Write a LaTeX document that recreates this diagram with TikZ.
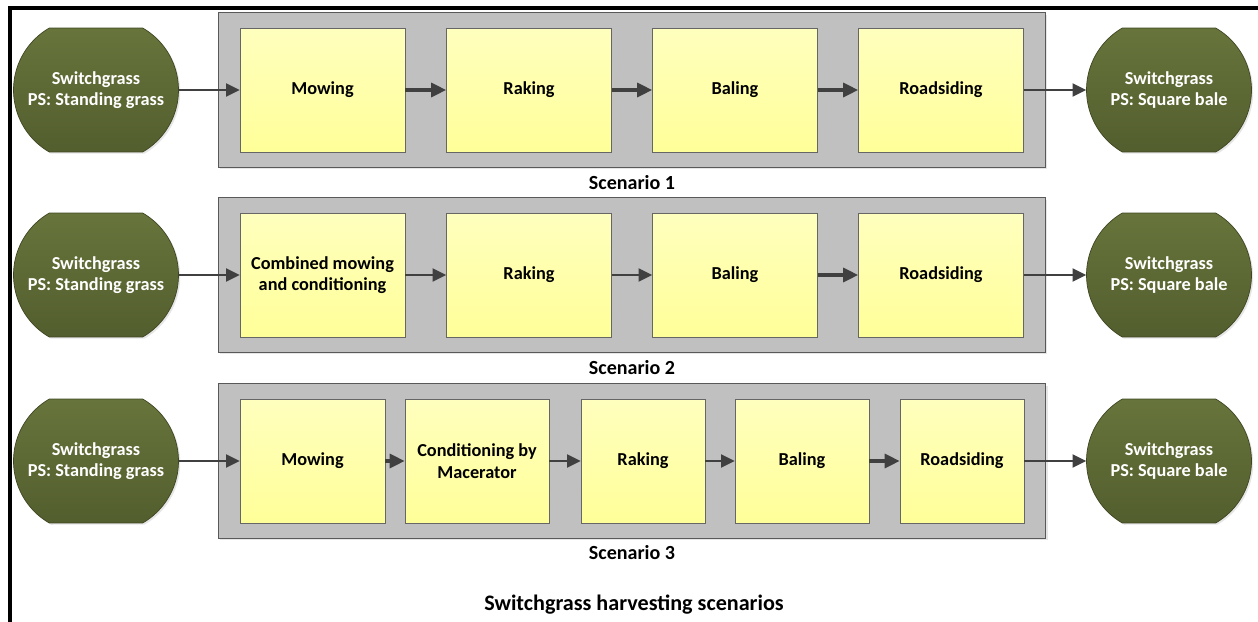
\documentclass[tikz,border=0pt]{standalone}
\usepackage{fontspec}
\setmainfont{Carlito}
\usetikzlibrary{positioning,fit,backgrounds,shapes.misc,shadows,arrows.meta}

\definecolor{olivetop}{HTML}{67743B}
\definecolor{olivebot}{HTML}{535E2E}
\definecolor{olivedraw}{HTML}{3E4622}
\definecolor{paneldraw}{HTML}{595959}
\definecolor{panelfill}{HTML}{C0C0C0}
\definecolor{boxtop}{HTML}{FFFFBE}
\definecolor{boxbot}{HTML}{FFFF99}
\definecolor{arrowcol}{HTML}{404040}

\begin{document}
\begin{tikzpicture}[x=0.02cm,y=-0.02cm,
font=\fontsize{10.4}{12.2}\selectfont\bfseries,
grass/.style ={rounded rectangle,rounded rectangle arc length=120,
  minimum width=3.3cm,minimum height=2.48cm,inner sep=0pt,
  top color=olivetop,bottom color=olivebot,draw=olivedraw,
  text=white,align=center,
  drop shadow={shadow xshift=1pt,shadow yshift=-1pt,opacity=0.2}},
task/.style ={minimum width=3.3cm,minimum height=2.48cm,inner sep=0pt,
  top color=boxtop,bottom color=boxbot,draw=gray!80!black,align=center},
panel/.style ={fill=panelfill,draw=paneldraw,line width=0.6pt,
  inner xsep=0.43cm,inner ysep=0.3cm,
  drop shadow={shadow xshift=1.2pt,shadow yshift=-1.2pt,opacity=0.2}},
caption/.style ={font=\fontsize{11.4}{13}\selectfont\bfseries},
thinarr/.style = {-{Triangle[length=0.27cm,width=0.26cm]},arrowcol,line width=1.1pt},
thickarr/.style = {-{Triangle[length=0.3cm,width=0.28cm]},arrowcol,line width=1.8pt}]

\useasboundingbox (0,0) rectangle (1258,622);

% frame
\draw[line width=2.2pt] (10,622) -- (10,8) -- (1258,8);

% Scenario 1
\node[task] (mow1) at (322.5,90) {Mowing};
\node[task] (rake1) at (529,90) {Raking};
\node[task] (bale1) at (735,90) {Baling};
\node[task] (road1) at (941,90) {Roadsiding};

% Scenario 2
\node[task] (mow2) at (322.5,275) {Combined mowing\\and conditioning};
\node[task] (rake2) at (529,275) {Raking};
\node[task] (bale2) at (735,275) {Baling};
\node[task] (road2) at (941,275) {Roadsiding};

% Scenario 3
\node[task,minimum width=2.9cm] (mow3) at (312.5,461) {Mowing};
\node[task,minimum width=2.88cm] (cond3) at (477,461) {Conditioning by\\Macerator};
\node[task,minimum width=2.48cm] (rake3) at (643,461) {Raking};
\node[task,minimum width=2.68cm] (bale3) at (802,461) {Baling};
\node[task,minimum width=2.48cm] (road3) at (962,461) {Roadsiding};

% panels behind the boxes
\begin{scope}[on background layer]
\node[panel,fit=(mow1)(road1)] (panel1) {};
\node[panel,fit=(mow2)(road2)] (panel2) {};
\node[panel,fit=(mow3)(road3)] (panel3) {};
\end{scope}

\node[caption] (cap1) at (632,183) {Scenario 1};
\node[caption] (cap2) at (632,368) {Scenario 2};
\node[caption] (cap3) at (632,553) {Scenario 3};

\node[grass] (in1) at (96,90) {Switchgrass\\PS: Standing grass};
\node[grass] (in2) at (96,275) {Switchgrass\\PS: Standing grass};
\node[grass] (in3) at (96,461) {Switchgrass\\PS: Standing grass};
\node[grass] (out1) at (1169,90) {Switchgrass\\PS: Square bale};
\node[grass] (out2) at (1169,275) {Switchgrass\\PS: Square bale};
\node[grass] (out3) at (1169,461) {Switchgrass\\PS: Square bale};

\draw[thinarr] (in1) -- (mow1);
\draw[thickarr] (mow1) -- (rake1);
\draw[thickarr] (rake1) -- (bale1);
\draw[thickarr] (bale1) -- (road1);
\draw[thinarr] (road1) -- (out1);

\draw[thinarr] (in2) -- (mow2);
\draw[thinarr] (mow2) -- (rake2);
\draw[thinarr] (rake2) -- (bale2);
\draw[thickarr] (bale2) -- (road2);
\draw[thinarr] (road2) -- (out2);

\draw[thinarr] (in3) -- (mow3);
\draw[thickarr] (mow3) -- (cond3);
\draw[thinarr] (cond3) -- (rake3);
\draw[thinarr] (rake3) -- (bale3);
\draw[thickarr] (bale3) -- (road3);
\draw[thinarr] (road3) -- (out3);

\node[font=\fontsize{12.6}{14}\selectfont\bfseries] (title) at (634,605) {Switchgrass harvesting scenarios};

\end{tikzpicture}
\end{document}
